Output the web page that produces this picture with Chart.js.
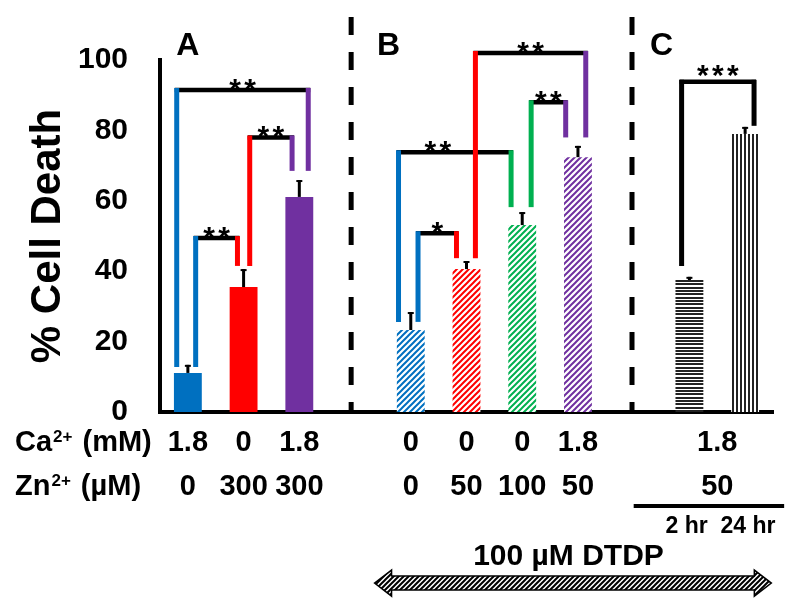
<!DOCTYPE html>
<html>
<head>
<meta charset="utf-8">
<script src="https://cdn.jsdelivr.net/npm/chart.js@4"></script>
<style>body{margin:0;background:#fff}</style>
</head>
<body>
<canvas id="chart" width="800" height="611"></canvas>
<script>
// x slots: A (0-2), gap, B (4-7), gap, C (9-10)
const caValues = ['1.8', '0', '1.8', '', '0', '0', '0', '1.8', '', '', ''];
const znValues = ['0', '300', '300', '', '0', '50', '100', '50', '', '', ''];
const cellDeath = [11.1, 35.5, 61.1, null, 23.3, 40.6, 53.1, 72.4, null, 37.5, 79];
const sem = [2.3, 5.1, 4.8, null, 5.1, 2.3, 3.7, 3.2, null, 0.9, 2];
const yTicks = [0, 20, 40, 60, 80, 100];
const panelCCa = '1.8';
const panelCZn = '50';
const timeLabels = ['2 hr', '24 hr'];

// significance brackets (bar indices, heights in %)
const sigFrom = [0, 1, 0, 4, 4, 5, 6, 9];
const sigTo = [1, 2, 2, 5, 6, 7, 7, 10];
const sigTop = [49.4, 78, 91.5, 50.8, 73.8, 102, 88, 93.8];
const sigLeftEnd = [12.8, 41.5, 12.8, 25.6, 25.6, 43.7, 58.2, 41.5];
const sigRightEnd = [41.5, 68.5, 68.5, 43.7, 58.2, 78, 78, 81.3];
const sigStars = [2, 2, 2, 1, 2, 2, 2, 3];

// styling
const legOffL = [0.14, 0.11, -0.2, 0.13, -0.22, 0.16, 0.16, -0.14];
const legOffR = [-0.11, -0.13, 0.16, -0.18, -0.2, 0.14, -0.22, 0.16];
const starAt = [0.5, 0.5, 0.5, 0.5, 0.35, 0.5, 0.5, 0.5];
const barColors = ['#0070C0', '#FF0000', '#7030A0', null, '#0070C0', '#FF0000', '#00B050', '#7030A0', null, '#000', '#000'];

const canvas = document.getElementById('chart');
const ctx = canvas.getContext('2d');
const FONT = '"Liberation Sans", Arial, sans-serif';
Chart.defaults.font.family = FONT;
Chart.defaults.color = '#000';

function tile(w, h, draw) {
  const c = document.createElement('canvas');
  c.width = w; c.height = h;
  const g = c.getContext('2d');
  g.fillStyle = '#fff';
  g.fillRect(0, 0, w, h);
  draw(g);
  return ctx.createPattern(c, 'repeat');
}
function hatch(color, s) {
  return tile(s, s, g => {
    g.strokeStyle = color; g.lineWidth = 2;
    g.beginPath();
    g.moveTo(-1, s + 1); g.lineTo(s + 1, -1);
    g.moveTo(-1, 1); g.lineTo(1, -1);
    g.moveTo(s - 1, s + 1); g.lineTo(s + 1, s - 1);
    g.stroke();
  });
}
const hStripes = tile(4, 10, g => {
  g.fillStyle = '#222';
  g.fillRect(0, 0, 4, 2); g.fillRect(0, 3, 4, 2); g.fillRect(0, 7, 4, 2);
});
const vStripes = tile(4, 4, g => {
  g.fillStyle = '#222';
  g.fillRect(0, 0, 2, 4);
});
const barFills = [
  '#0070C0', '#FF0000', '#7030A0', null,
  hatch('#0070C0', 6), hatch('#FF0000', 6), hatch('#00B050', 6), hatch('#7030A0', 6), null,
  hStripes, vStripes
];

const LABEL_SIZE = 29, LABEL_LH = 1.52, LABEL_PAD = 9;

const annot = {
  id: 'annot',
  afterDatasetsDraw(chart) {
    const {ctx, chartArea: ca, scales: {x, y}} = chart;
    const meta = chart.getDatasetMeta(0);
    ctx.save();

    // error bars
    ctx.strokeStyle = '#000';
    meta.data.forEach((bar, i) => {
      if (cellDeath[i] == null) return;
      const top = y.getPixelForValue(cellDeath[i] + sem[i]);
      ctx.lineWidth = 3;
      ctx.beginPath(); ctx.moveTo(bar.x, bar.y); ctx.lineTo(bar.x, top); ctx.stroke();
      ctx.lineWidth = 2;
      ctx.beginPath(); ctx.moveTo(bar.x - 3, top + 1); ctx.lineTo(bar.x + 3, top + 1); ctx.stroke();
    });

    // dashed separators
    ctx.setLineDash([18, 17]);
    ctx.lineWidth = 5;
    [2.93, 7.97].forEach(v => {
      const px = x.getPixelForValue(v);
      ctx.beginPath(); ctx.moveTo(px, ca.top - 43); ctx.lineTo(px, ca.bottom); ctx.stroke();
    });
    ctx.setLineDash([]);

    // significance brackets
    sigFrom.forEach((a, k) => {
      const b = sigTo[k];
      const xl = x.getPixelForValue(a + legOffL[k]);
      const xr = x.getPixelForValue(b + legOffR[k]);
      const yt = y.getPixelForValue(sigTop[k]);
      ctx.lineWidth = 4.5;
      ctx.strokeStyle = '#000';
      ctx.beginPath(); ctx.moveTo(xl - 2, yt); ctx.lineTo(xr + 2, yt); ctx.stroke();
      ctx.lineWidth = 5;
      ctx.strokeStyle = barColors[a];
      ctx.beginPath(); ctx.moveTo(xl, yt - 2); ctx.lineTo(xl, y.getPixelForValue(sigLeftEnd[k])); ctx.stroke();
      ctx.strokeStyle = barColors[b];
      ctx.beginPath(); ctx.moveTo(xr, yt - 2); ctx.lineTo(xr, y.getPixelForValue(sigRightEnd[k])); ctx.stroke();
      ctx.fillStyle = '#000';
      ctx.font = 'bold 30px ' + FONT;
      ctx.textAlign = 'center';
      ctx.textBaseline = 'alphabetic';
      const n = sigStars[k], cx = xl + (xr - xl) * starAt[k], gap = 15;
      for (let j = 0; j < n; j++) {
        ctx.fillText('*', cx + (j - (n - 1) / 2) * gap, yt + (k === 7 ? 3 : 9));
      }
    });

    // panel letters
    ctx.fillStyle = '#000';
    ctx.font = 'bold 32px ' + FONT;
    ctx.textAlign = 'center';
    ctx.textBaseline = 'middle';
    [['A', 0], ['B', 3.6], ['C', 8.5]].forEach(([t, v]) => ctx.fillText(t, x.getPixelForValue(v), ca.top - 14));

    // row titles
    const lh = LABEL_SIZE * LABEL_LH;
    const row1 = x.top + LABEL_PAD + lh / 2, row2 = row1 + lh;
    function rowTitle(el, rest, yy) {
      ctx.textAlign = 'left';
      ctx.font = 'bold ' + LABEL_SIZE + 'px ' + FONT;
      let px = 15;
      ctx.fillText(el, px, yy); px += ctx.measureText(el).width + 1;
      ctx.font = 'bold 17px ' + FONT;
      ctx.fillText('2+', px, yy - 6); px += ctx.measureText('2+').width + 2;
      ctx.font = 'bold ' + LABEL_SIZE + 'px ' + FONT;
      ctx.fillText(' ' + rest, px, yy);
    }
    rowTitle('Ca', '(mM)', row1);
    rowTitle('Zn', '(\u00b5M)', row2);

    // panel C labels
    const cMid = x.getPixelForValue(9.5);
    ctx.textAlign = 'center';
    ctx.font = 'bold ' + LABEL_SIZE + 'px ' + FONT;
    ctx.fillText(panelCCa, cMid, row1);
    ctx.fillText(panelCZn, cMid, row2);
    ctx.lineWidth = 4;
    ctx.strokeStyle = '#000';
    ctx.beginPath(); ctx.moveTo(x.getPixelForValue(8), row2 + 19); ctx.lineTo(x.getPixelForValue(10.7), row2 + 19); ctx.stroke();
    ctx.font = 'bold 23px ' + FONT;
    timeLabels.forEach((t, i) => ctx.fillText(t, x.getPixelForValue(8.95 + i * 1.1), row2 + 40));

    // DTDP arrow
    ctx.font = 'bold 30px ' + FONT;
    ctx.fillText('100 \u00b5M DTDP', x.getPixelForValue(6.83), row2 + 70);
    const xl = x.getPixelForValue(3.35), xr = x.getPixelForValue(10.47), cy = row2 + 96;
    const hl = 17, hh = 13, sh = 7;
    ctx.beginPath();
    ctx.moveTo(xl, cy);
    ctx.lineTo(xl + hl, cy - hh); ctx.lineTo(xl + hl, cy - sh);
    ctx.lineTo(xr - hl, cy - sh); ctx.lineTo(xr - hl, cy - hh);
    ctx.lineTo(xr, cy);
    ctx.lineTo(xr - hl, cy + hh); ctx.lineTo(xr - hl, cy + sh);
    ctx.lineTo(xl + hl, cy + sh); ctx.lineTo(xl + hl, cy + hh);
    ctx.closePath();
    ctx.fillStyle = hatch('#000', 5);
    ctx.fill();
    ctx.lineWidth = 1.5;
    ctx.stroke();
    ctx.restore();
  }
};

new Chart(ctx, {
  type: 'bar',
  data: {
    labels: caValues.map((c, i) => [c, znValues[i]]),
    datasets: [{
      data: cellDeath,
      backgroundColor: barFills,
      borderWidth: 0,
      categoryPercentage: 1,
      barPercentage: 0.5
    }]
  },
  options: {
    responsive: false,
    animation: false,
    layout: {padding: {top: 60, right: 27, left: 0, bottom: 0}},
    plugins: {legend: {display: false}, tooltip: {enabled: false}},
    scales: {
      x: {
        grid: {display: false, drawTicks: false},
        border: {display: true, color: '#000', width: 4},
        ticks: {autoSkip: false, maxRotation: 0, padding: LABEL_PAD, color: '#000',
                font: {size: LABEL_SIZE, weight: 'bold', lineHeight: LABEL_LH}},
        afterFit(s) { s.height = 199; }
      },
      y: {
        min: 0, max: 100,
        afterBuildTicks(s) { s.ticks = yTicks.map(v => ({value: v})); },
        ticks: {padding: 32, color: '#000', font: {size: 30, weight: 'bold'}},
        grid: {display: false, drawTicks: false},
        border: {display: true, color: '#000', width: 4},
        title: {display: true, text: '% Cell Death', color: '#000',
                font: {size: 42, weight: 'bold'}, padding: {top: 23, bottom: 0}},
        afterFit(s) { s.width = 160; }
      }
    }
  },
  plugins: [annot]
});
</script>
</body>
</html>
